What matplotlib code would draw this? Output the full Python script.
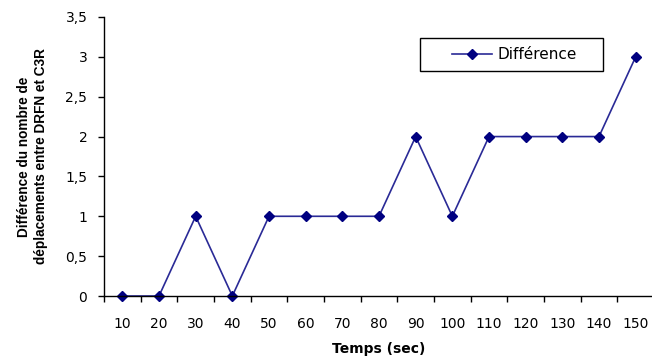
import numpy as np
import matplotlib
matplotlib.use("Agg")
import matplotlib.pyplot as plt
from matplotlib.patches import Rectangle

temps = ["10", "20", "30", "40", "50", "60", "70", "80", "90", "100",
         "110", "120", "130", "140", "150"]
difference = [0, 0, 1, 0, 1, 1, 1, 1, 2, 1, 2, 2, 2, 2, 3]
y_ticks = [0, 0.5, 1, 1.5, 2, 2.5, 3, 3.5]
y_tick_labels = ["0", "0,5", "1", "1,5", "2", "2,5", "3", "3,5"]

plt.rcParams["font.family"] = ["DejaVu Sans"]

fig = plt.figure(figsize=(6.52, 3.6), dpi=100)
ax = fig.add_axes([104 / 652, 1 - 296 / 360, 550 / 652, 279 / 360])

x = np.arange(len(temps))
ax.plot(x, difference, color="#2a2a96", lw=1.2, marker="D", ms=5.5,
        mfc="#000080", mec="#000080", label="Différence", clip_on=False)

ax.set_xlim(-0.5, len(temps) - 0.5)
ax.set_ylim(0, 3.5)

ax.set_xticks(x, temps)
ax.set_xticks(np.arange(-0.5, len(temps), 1), minor=True)
ax.tick_params(axis="x", which="major", length=0, pad=15, labelsize=10)
ax.tick_params(axis="x", which="minor", length=4, width=1, direction="out")
ax.set_yticks(y_ticks, y_tick_labels)
ax.tick_params(axis="y", length=4, width=1, pad=8, labelsize=10)

for side in ["top", "right"]:
    ax.spines[side].set_visible(False)
for side in ["left", "bottom"]:
    ax.spines[side].set_linewidth(1)

# rotated label: Arial-like bold
ax.set_ylabel("Différence du nombre de\ndéplacements entre DRFN et C3R",
              fontsize=9.8, fontweight="bold", linespacing=1.3,
              family=["Liberation Sans", "DejaVu Sans"])
ax.yaxis.set_label_coords(-0.102, 0.5)
ax.set_xlabel("Temps (sec)", fontsize=10, fontweight="bold")
ax.xaxis.set_label_coords(0.5, -0.165)

# legend box drawn separately so the padding matches
ax.add_patch(Rectangle((0.5745, 0.8065), 0.3325, 0.1182, transform=ax.transAxes,
                       fill=True, facecolor="white", edgecolor="black",
                       lw=1, clip_on=False, zorder=4))
leg = ax.legend(loc="center left", bbox_to_anchor=(0.6327, 0.8656), fontsize=11,
                frameon=False, handlelength=2.6, handletextpad=0.4,
                borderpad=0, borderaxespad=0)
leg.set_zorder(5)

fig.savefig("out.png", dpi=100)
